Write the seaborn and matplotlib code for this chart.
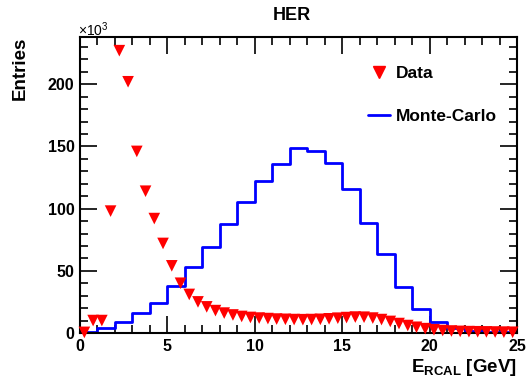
import numpy as np
import pandas as pd
import matplotlib
matplotlib.use("Agg")
import matplotlib.pyplot as plt
from matplotlib.ticker import MultipleLocator
from matplotlib.lines import Line2D
import seaborn as sns

# ---- data (values in units of 10^3 entries) ----
data_centers = [0.25, 0.75, 1.25, 1.75, 2.25, 2.75, 3.25, 3.75, 4.25, 4.75,
                5.25, 5.75, 6.25, 6.75, 7.25, 7.75, 8.25, 8.75, 9.25, 9.75,
                10.25, 10.75, 11.25, 11.75, 12.25, 12.75, 13.25, 13.75, 14.25, 14.75,
                15.25, 15.75, 16.25, 16.75, 17.25, 17.75, 18.25, 18.75, 19.25, 19.75,
                20.25, 20.75, 21.25, 21.75, 22.25, 22.75, 23.25, 23.75, 24.25, 24.75]
data_values = [0.5, 10, 10, 98, 227, 202, 146, 114, 92, 72,
               54, 40, 31, 25, 21, 18, 16, 14.5, 13.3, 12.5,
               12.0, 11.6, 11.2, 11.0, 10.8, 10.7, 10.8, 11.0, 11.4, 11.9,
               12.4, 12.8, 12.7, 12.0, 10.8, 9.3, 7.6, 6.0, 4.6, 3.5,
               2.6, 2.0, 1.6, 1.3, 1.1, 1.0, 0.9, 0.8, 0.7, 0.6]

mc_edges = list(range(0, 26))
mc_values = [0.8, 4.3, 9.0, 15.8, 23.8, 37.7, 53.0, 68.8, 87.3, 105.5,
             122.3, 136.0, 148.6, 146.0, 136.8, 115.7, 88.8, 63.2, 36.9, 19.0,
             8.8, 4.3, 1.3, 0.6, 0.5]

x_ticks = [0, 5, 10, 15, 20, 25]
y_ticks = [0, 50, 100, 150, 200]

title = "HER"
legend_labels = ["Data", "Monte-Carlo"]

# ---- style ----
sns.set_theme(style="ticks")
plt.rcParams['font.family'] = ['Liberation Sans', 'DejaVu Sans']
plt.rcParams['mathtext.fontset'] = 'custom'
plt.rcParams['mathtext.rm'] = 'Liberation Sans'
plt.rcParams['mathtext.bf'] = 'Liberation Sans:bold'
plt.rcParams['mathtext.it'] = 'Liberation Sans:italic'
for k in ['text.color', 'axes.labelcolor', 'xtick.color', 'ytick.color', 'axes.edgecolor']:
    plt.rcParams[k] = 'black'

W, H = 527, 386
fig = plt.figure(figsize=(W / 100, H / 100), dpi=100)
ax = fig.add_axes([80 / W, 1 - 333 / H, (517 - 80) / W, (333 - 37) / H])

mc_centers = [(a + b) / 2 for a, b in zip(mc_edges[:-1], mc_edges[1:])]
mc_df = pd.DataFrame({"E": mc_centers, "w": mc_values})
sns.histplot(data=mc_df, x="E", weights="w", bins=mc_edges, element="step",
             fill=False, color="#0000ff", linewidth=2.0, ax=ax)

data_df = pd.DataFrame({"E": data_centers, "N": data_values})
sns.scatterplot(data=data_df, x="E", y="N", marker="v", color="#ff0000",
                s=70, edgecolor="none", linewidth=0, ax=ax, clip_on=False,
                zorder=3)

ax.set_xlim(0, 25)
ax.set_ylim(0, 238)
ax.set_xlabel("")
ax.set_ylabel("")

ax.set_xticks(x_ticks)
ax.set_yticks(y_ticks)
ax.xaxis.set_minor_locator(MultipleLocator(1))
ax.yaxis.set_minor_locator(MultipleLocator(10))
ax.set_xticklabels([str(v) for v in x_ticks], fontweight="bold", fontsize=11.5)
ax.set_yticklabels([str(v) for v in y_ticks], fontweight="bold", fontsize=11.5)
ax.tick_params(which="both", direction="in", top=True, right=True,
               width=1.2, color="black", labelcolor="black")
ax.tick_params(which="major", length=12, pad=4)
ax.tick_params(which="minor", length=6)
for sp in ax.spines.values():
    sp.set_linewidth(1.5)
    sp.set_color("black")

# legend
handles = [Line2D([], [], marker="v", color="#ff0000", linestyle="none", markersize=9),
           Line2D([], [], color="#0000ff", linewidth=2.0)]
fig.legend(handles, legend_labels, loc="upper left",
           bbox_to_anchor=(352 / W, 1 - 50 / H), frameon=False,
           prop={"weight": "bold", "size": 12.5}, labelspacing=1.6,
           handlelength=1.3, handletextpad=0.3)

fig.text(292 / W, 1 - 16 / H, title, ha="center", va="center",
         fontsize=13, fontweight="bold")
fig.text(20 / W, 1 - 37 / H, "Entries", rotation=90, ha="center", va="top",
         fontsize=13.5, fontweight="bold")
fig.text(517 / W, 1 - 367 / H, r"E$_{\mathbf{RCAL}}$ [GeV]", ha="right",
         va="center", fontsize=13.5, fontweight="bold")
fig.text(78 / W, 1 - 30 / H, r"$\times$10$^{3}$", ha="left", va="center",
         fontsize=10)

fig.savefig("out.png", dpi=100, facecolor="white")
